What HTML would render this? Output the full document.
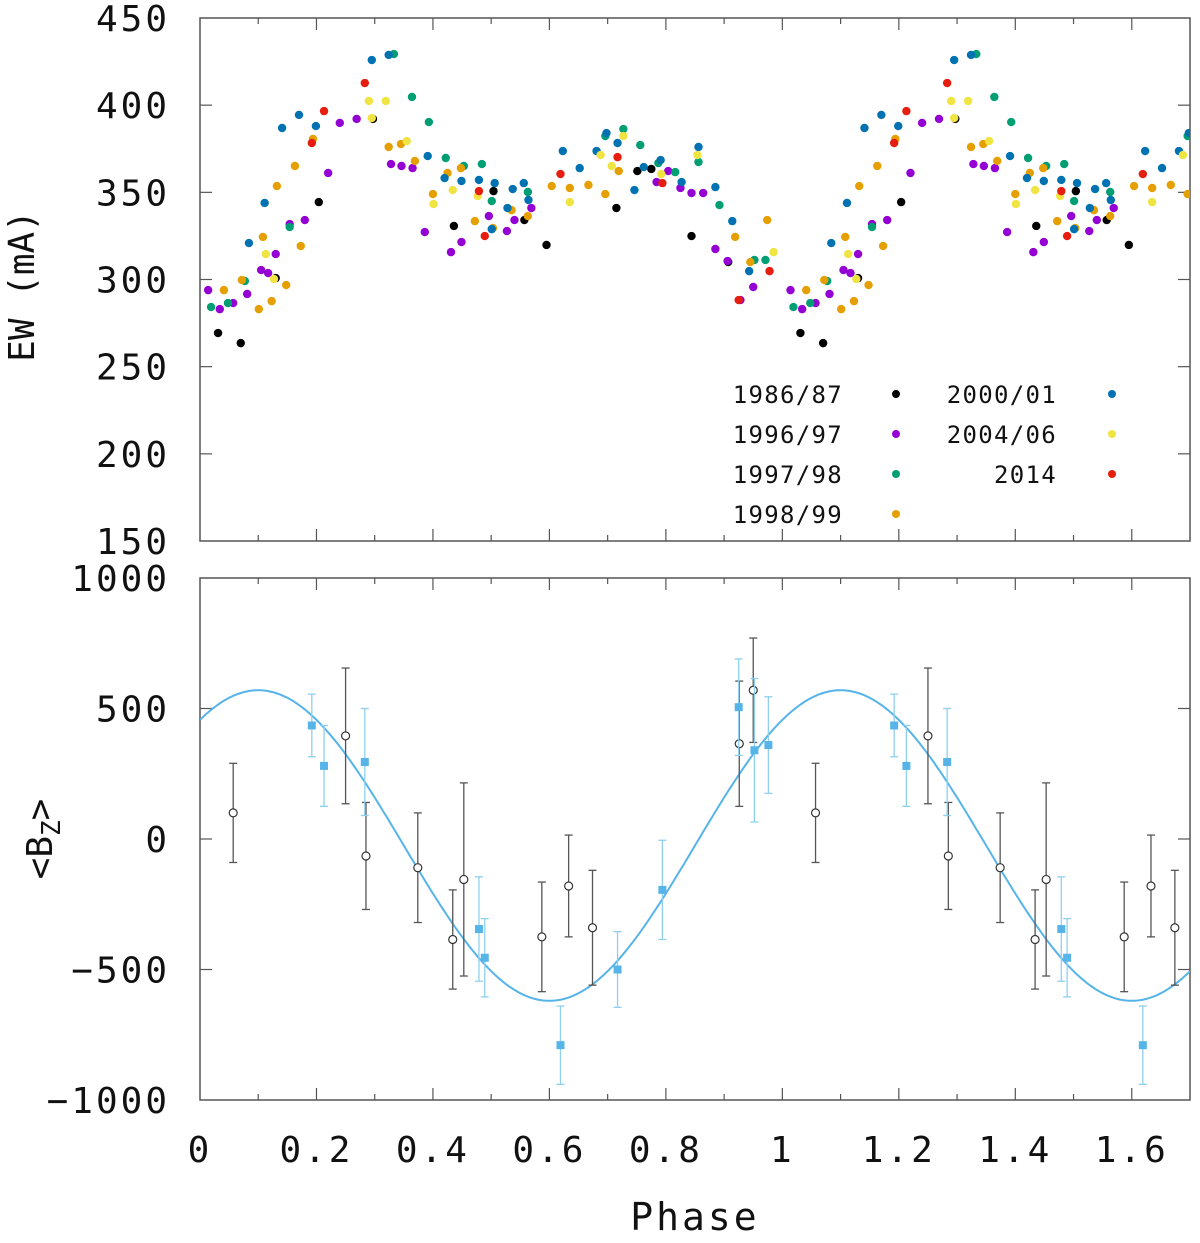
<!DOCTYPE html>
<html><head><meta charset="utf-8"><style>
body{margin:0;background:#fff}
svg text{font-family:"DejaVu Sans Mono","Liberation Mono",monospace;fill:#111}
</style></head><body>
<svg id="c" width="1200" height="1238" xmlns="http://www.w3.org/2000/svg"></svg>
<script>
// ---------- data (phase 0..1, replicated to 1.7) ----------
const seriesNames=["1986/87","1996/97","1997/98","1998/99","2000/01","2004/06","2014"];
const seriesColors=["#000000","#9400d3","#009e73","#e69f00","#0072b2","#f0e442","#e51e10"];
const ew8687=[[0.031,269.3],[0.070,263.5],[0.130,300.8],[0.204,344.4],[0.297,392.1],[0.436,330.7],[0.504,350.7],[0.557,334.1],[0.595,319.8],[0.715,341.0],[0.751,362.2],[0.775,363.4],[0.844,324.9],[0.907,310.0]];
const ew9697=[[0.014,293.9],[0.034,283.0],[0.057,286.5],[0.081,291.7],[0.105,305.4],[0.117,303.7],[0.130,314.6],[0.154,331.8],[0.180,334.1],[0.220,361.1],[0.240,389.8],[0.269,392.1],[0.328,366.2],[0.346,365.1],[0.365,363.9],[0.386,327.2],[0.431,315.7],[0.449,321.5],[0.496,336.4],[0.527,327.8],[0.540,334.1],[0.569,341.0],[0.784,355.9],[0.804,362.2],[0.825,352.5],[0.844,349.6],[0.864,349.6],[0.885,317.5],[0.906,310.6],[0.928,288.2],[0.950,295.7]];
const ew9798=[[0.019,284.2],[0.048,286.5],[0.077,299.1],[0.154,330.1],[0.333,429.3],[0.364,404.7],[0.393,390.3],[0.422,369.7],[0.453,365.1],[0.484,366.2],[0.501,345.0],[0.563,350.2],[0.696,382.3],[0.727,386.3],[0.756,377.1],[0.787,366.8],[0.816,361.6],[0.856,367.4],[0.892,342.7],[0.952,311.2],[0.971,311.2]];
const ew9899=[[0.041,293.9],[0.072,299.7],[0.101,283.0],[0.123,287.6],[0.148,296.8],[0.108,324.4],[0.173,319.2],[0.132,353.6],[0.163,365.1],[0.194,380.6],[0.324,376.0],[0.345,377.7],[0.369,368.0],[0.400,349.0],[0.425,361.1],[0.448,363.9],[0.472,333.5],[0.503,329.5],[0.535,339.8],[0.563,336.4],[0.604,353.6],[0.635,352.5],[0.667,354.2],[0.696,349.0],[0.719,362.2],[0.919,324.4],[0.945,310.0],[0.974,334.1]];
const ew0001=[[0.084,320.9],[0.111,343.9],[0.141,386.9],[0.170,394.4],[0.199,388.0],[0.295,425.9],[0.324,428.8],[0.391,370.8],[0.420,358.2],[0.449,356.5],[0.479,357.1],[0.506,355.3],[0.501,328.9],[0.537,351.9],[0.556,355.3],[0.564,345.6],[0.528,341.0],[0.623,373.7],[0.652,363.9],[0.681,373.7],[0.698,384.0],[0.717,378.3],[0.746,351.3],[0.762,364.5],[0.791,368.5],[0.827,355.9],[0.856,376.0],[0.885,353.0],[0.914,333.5],[0.943,304.8]];
const ew0406=[[0.113,314.6],[0.127,300.3],[0.290,402.4],[0.319,402.4],[0.295,392.6],[0.355,379.4],[0.401,343.3],[0.434,351.3],[0.477,347.9],[0.635,344.4],[0.688,371.4],[0.707,365.1],[0.727,382.3],[0.792,360.5],[0.854,371.4],[0.985,315.7]];
const ew2014=[[0.213,396.6],[0.192,378.3],[0.283,412.7],[0.479,350.7],[0.489,324.9],[0.619,360.5],[0.717,370.2],[0.794,355.3],[0.978,304.8],[0.925,288.2]];
const ewSeries=[ew8687,ew9697,ew9798,ew9899,ew0001,ew0406,ew2014];
// Bz: [phase, value, error]
const bzOld=[[0.057,100,190],[0.250,395,260],[0.285,-65,205],[0.374,-110,210],[0.434,-385,190],[0.453,-155,370],[0.587,-375,210],[0.633,-180,195],[0.674,-340,220],[0.926,365,240],[0.950,570,200]];
const bzNew=[[0.192,435,120],[0.213,280,155],[0.283,295,205],[0.479,-345,200],[0.489,-455,150],[0.619,-790,150],[0.717,-500,145],[0.794,-195,190],[0.925,505,185],[0.952,340,275],[0.976,360,185]];
const fitMean=-25, fitAmp=595, fitPhase0=0.1;
const xTicks=[0,0.2,0.4,0.6,0.8,1,1.2,1.4,1.6];
const ewTicks=[150,200,250,300,350,400,450];
const bzTicks=[-1000,-500,0,500,1000];

// ---------- geometry ----------
const L=200,R=1190,T1=18,B1=541,T2=578,B2=1100,XMAX=1.7;
const sx=p=>L+(p/XMAX)*(R-L);
const sy1=v=>B1-(v-150)/300*(B1-T1);
const sy2=v=>B2-(v+1000)/2000*(B2-T2);
const svg=document.getElementById('c');
const NS="http://www.w3.org/2000/svg";
function mk(tag,attrs,parent){const e=document.createElementNS(NS,tag);for(const k in attrs)e.setAttribute(k,attrs[k]);(parent||svg).appendChild(e);return e;}
function rep(arr){const out=[];arr.forEach(d=>{out.push(d);if(d[0]+1<=XMAX)out.push([d[0]+1].concat(d.slice(1)));});return out;}

// frames
[[T1,B1],[T2,B2]].forEach((tb,i)=>{
  const f=mk('rect',{x:L,y:tb[0],width:R-L,height:tb[1]-tb[0],fill:'none',stroke:'#555','stroke-width':1.5});
  
  
  for(let k=1;k<17;k++){const x=sx(k*0.1);const len=(k%2==0)?12:6;
    mk('line',{x1:x,x2:x,y1:tb[1],y2:tb[1]-len,stroke:'#555','stroke-width':1.2});
    mk('line',{x1:x,x2:x,y1:tb[0],y2:tb[0]+len,stroke:'#555','stroke-width':1.2});}
});
// x tick labels
xTicks.forEach(t=>{const e=mk('text',{x:sx(t),y:1162,'font-size':36,'text-anchor':'middle','letter-spacing':3});e.textContent=String(t);
  
  });
// ew y ticks
ewTicks.forEach(t=>{const y=sy1(t);if(t>150&&t<450){mk('line',{x1:L,x2:L+12,y1:y,y2:y,stroke:'#555','stroke-width':1.2});mk('line',{x1:R,x2:R-12,y1:y,y2:y,stroke:'#555','stroke-width':1.2});}
  const e=mk('text',{x:170,y:y+13,'font-size':36,'text-anchor':'end','letter-spacing':3});e.textContent=String(t);
  
  });
bzTicks.forEach(t=>{const y=sy2(t);if(t>-1000&&t<1000){mk('line',{x1:L,x2:L+12,y1:y,y2:y,stroke:'#555','stroke-width':1.2});mk('line',{x1:R,x2:R-12,y1:y,y2:y,stroke:'#555','stroke-width':1.2});}
  const e=mk('text',{x:170,y:y+13,'font-size':36,'text-anchor':'end','letter-spacing':3});e.textContent=String(t).replace('-','\u2212');
  
  });
// axis titles
let t=mk('text',{x:0,y:0,'font-size':36,'text-anchor':'middle',transform:'translate(34,286) rotate(-90)'});t.textContent='EW (mA)';

t=mk('text',{x:0,y:0,'font-size':36,'text-anchor':'middle',transform:'translate(52,839) rotate(-90)'});
t.innerHTML='&lt;B<tspan font-size="26" dy="8">Z</tspan><tspan dy="-8">&gt;</tspan>';

t=mk('text',{x:695,y:1230,'font-size':38,'text-anchor':'middle','letter-spacing':3});t.textContent='Phase';


// EW points
const clip1=mk('clipPath',{id:'cp1'});mk('rect',{x:L,y:T1,width:R-L,height:B1-T1},clip1);
const clip2=mk('clipPath',{id:'cp2'});mk('rect',{x:L,y:T2,width:R-L,height:B2-T2},clip2);
const g1=mk('g',{'clip-path':'url(#cp1)'});
ewSeries.forEach((s,i)=>{rep(s).forEach(d=>{const c=mk('circle',{cx:sx(d[0]),cy:sy1(d[1]),r:4.2,fill:seriesColors[i]},g1);
  
  });});
// legend
seriesNames.forEach((n,i)=>{const col=i<4?0:1,row=i<4?i:i-4;const y=394+row*40;
  const tx=mk('text',{x:col?1057:843,y:y+9,'font-size':24,'text-anchor':'end','letter-spacing':1.3});tx.textContent=n;
  
  const m=mk('circle',{cx:col?1112:896,cy:y,r:4,fill:seriesColors[i]});
  });

// Bz panel
const g2=mk('g',{'clip-path':'url(#cp2)'});
let dpath='';for(let k=0;k<=340;k++){const p=k/200;const v=fitMean+fitAmp*Math.cos(2*Math.PI*(p-fitPhase0));dpath+=(k?'L':'M')+sx(p).toFixed(1)+','+sy2(v).toFixed(1);}
const fc=mk('path',{d:dpath,fill:'none',stroke:'#56b4e9','stroke-width':2},g2);

function ebar(d,color){const x=sx(d[0]),y1=sy2(d[1]-d[2]),y2=sy2(d[1]+d[2]);
  mk('line',{x1:x,x2:x,y1:y1,y2:y2,stroke:color,'stroke-width':1.3},g2);
  mk('line',{x1:x-4,x2:x+4,y1:y1,y2:y1,stroke:color,'stroke-width':1.3},g2);
  mk('line',{x1:x-4,x2:x+4,y1:y2,y2:y2,stroke:color,'stroke-width':1.3},g2);}
rep(bzOld).forEach(d=>{ebar(d,'#555');const c=mk('circle',{cx:sx(d[0]),cy:sy2(d[1]),r:4,fill:'#fff',stroke:'#333','stroke-width':1.2},g2);
  });
rep(bzNew).forEach(d=>{ebar(d,'#8fd0f0');const c=mk('rect',{x:sx(d[0])-4,y:sy2(d[1])-4,width:8,height:8,fill:'#56b4e9'},g2);
  });
</script>
</body></html>
